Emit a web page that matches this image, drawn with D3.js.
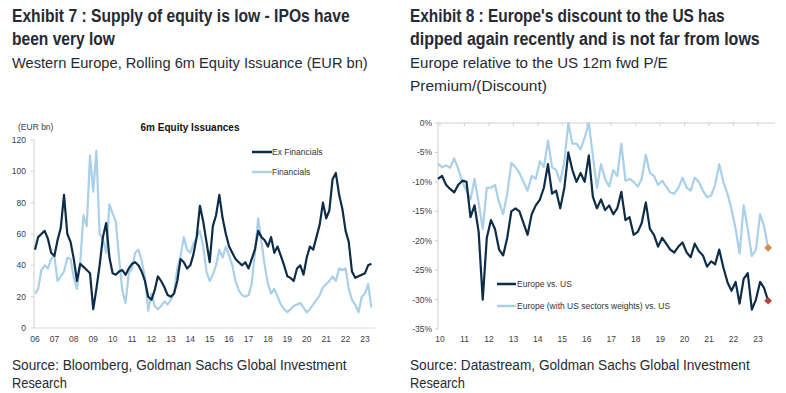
<!DOCTYPE html>
<meta charset="utf-8">
<style>
body { margin: 0; background: #fff; }
svg { display: block; }
.tick-label { font: 8.5px "Liberation Sans", Arial, sans-serif; fill: #404040; }
.legend { font: 8.5px "Liberation Sans", Arial, sans-serif; fill: #333; }
.head { font-family: "Liberation Sans", Arial, sans-serif; fill: #262a33; }
</style>
<body>
<script src="https://cdn.jsdelivr.net/npm/d3@7"></script>
<script>
// ---- data ----
// Exhibit 7: rolling 6m equity issuance, EUR bn, every 2 months from Jan 2006
var leftDates = d3.timeMonth.range(new Date(2006, 0, 1), new Date(2023, 5, 1), 2);
var exFinancials = [50,58,60,62,57,48, 46,56,64,85,60,55, 44,30,41,39,37,35,
  12,25,40,58,67,45, 35,34,36,37,34,38, 41,42,40,36,30,20, 18,24,33,30,26,21,
  20,22,30,44,42,38, 40,47,58,78,68,55, 42,65,72,85,70,60, 52,48,44,42,40,42,
  38,44,50,62,58,56, 52,58,48,52,46,40, 33,32,30,38,40,34, 45,52,50,58,66,80,
  70,75,95,99,85,76, 62,55,36,32,33,34, 35,40,41];
var financials = [22,25,37,40,38,44, 46,30,33,36,45,44, 32,25,42,72,65,110,
  87,113,60,57,48,79, 73,68,45,24,16,35, 38,48,50,43,32,11, 22,14,12,14,17,15,
  18,22,38,46,58,50, 48,54,58,62,52,36, 30,34,40,50,45,52, 46,40,30,24,21,20,
  21,28,48,70,55,40, 28,22,25,20,15,12, 10,12,14,15,16,13, 10,12,15,18,21,26,
  28,30,33,30,38,37, 38,25,18,15,10,20, 22,28,13];
var leftYTicks = [0, 20, 40, 60, 80, 100, 120];
var leftYears = d3.range(2006, 2024);

// Exhibit 8: Europe vs US 12m fwd P/E premium/(discount), %, every 2 months from Dec 2009
var rightDates = d3.timeMonth.range(new Date(2009, 11, 1), new Date(2023, 6, 1), 2);
var europeVsUs = [-9.5,-9.0,-10.5,-11.2,-11.8,-10.5,-9.8,-10.0,-16.0,-14.0,
  -18.5,-30.0,-19.5,-16.5,-18.0,-21.5,-22.5,-19.5,-15.0,-14.5,
  -15.0,-17.0,-19.0,-15.5,-14.0,-13.0,-11.0,-7.0,-12.0,-11.5,
  -14.5,-11.0,-5.0,-8.0,-10.0,-8.5,-10.0,-5.5,-12.5,-14.5,
  -13.0,-14.8,-14.0,-15.5,-14.5,-11.7,-16.5,-16.0,-19.0,-18.5,
  -17.0,-13.5,-18.0,-19.0,-21.0,-19.5,-20.5,-21.5,-22.0,-21.0,
  -20.3,-22.0,-22.8,-20.5,-21.8,-22.5,-24.4,-23.5,-24.0,-21.5,
  -24.5,-27.0,-28.5,-27.0,-30.7,-26.5,-25.5,-31.7,-30.0,-27.0,
  -28.0,-30.2];
var europeUsWeights = [-6.9,-7.5,-7.2,-7.6,-6.0,-7.8,-10.0,-11.5,-13.0,-9.5,
  -13.5,-18.0,-11.0,-11.0,-10.5,-13.5,-15.5,-12.0,-6.8,-7.5,
  -8.5,-10.0,-11.5,-9.0,-9.5,-6.5,-7.5,-3.0,-7.5,-8.0,
  -10.0,-6.5,0.0,-3.5,-3.5,-4.5,-2.5,0.0,-5.5,-11.0,
  -7.0,-9.5,-10.8,-8.0,-9.0,-3.5,-9.8,-9.5,-10.0,-10.8,
  -9.5,-5.4,-8.5,-9.0,-10.5,-9.8,-10.8,-11.8,-12.0,-11.0,
  -9.3,-11.0,-11.5,-9.3,-10.0,-11.5,-12.6,-12.3,-10.5,-7.0,
  -10.0,-12.0,-14.6,-18.0,-22.2,-14.0,-18.0,-22.6,-21.5,-15.5,
  -17.5,-21.2];
var rightYTicks = [0, -5, -10, -15, -20, -25, -30, -35];
var rightYears = d3.range(2010, 2024);

var darkBlue = "#0d2c47", lightBlue = "#a9d0e8";

var svg = d3.select("body").append("svg")
    .attr("width", 786)
    .attr("height", 393);

// headline text, squeezed sideways to the widths seen in the reference
function head(x, y, str, size, weight, len) {
  var t = svg.append("text")
    .attr("class", "head")
    .attr("x", 0).attr("y", 0)
    .attr("font-size", size)
    .attr("font-weight", weight)
    .text(str);
  var natural = t.node().getComputedTextLength();
  var sx = natural > 0 ? len / natural : 1;
  t.attr("transform", "translate(" + x + "," + y + ") scale(" + sx + ",1)");
}

head(12, 22, "Exhibit 7 : Supply of equity is low - IPOs have", 18, 700, 338);
head(12, 45, "been very low", 18, 700, 103);
head(12, 68, "Western Europe, Rolling 6m Equity Issuance (EUR bn)", 15.5, 400, 356);
head(12, 370, "Source: Bloomberg, Goldman Sachs Global Investment", 15.5, 400, 335);
head(12, 388, "Research", 15.5, 400, 55);

head(410, 22, "Exhibit 8 : Europe's discount to the US has", 18, 700, 315);
head(410, 45, "dipped again recently and is not far from lows", 18, 700, 350);
head(410, 68, "Europe relative to the US 12m fwd P/E", 15.5, 400, 258);
head(410, 91, "Premium/(Discount)", 15.5, 400, 137);
head(410, 370, "Source: Datastream, Goldman Sachs Global Investment", 15.5, 400, 340);
head(410, 388, "Research", 15.5, 400, 55);

// ---------- left chart ----------
var xL = d3.scaleTime()
    .domain([new Date(2006, 0, 1), new Date(2023, 0, 1)])
    .range([35, 365]);
var yL = d3.scaleLinear().domain([0, 120]).range([328, 140]);

var gL = svg.append("g");

// axes
gL.append("line").attr("x1", 34).attr("x2", 34).attr("y1", yL(120)).attr("y2", yL(0))
  .attr("stroke", "#d0d0d0");
gL.append("line").attr("x1", 34).attr("x2", 375).attr("y1", yL(0)).attr("y2", yL(0))
  .attr("stroke", "#d9d9d9");
gL.selectAll(".ytick").data(leftYTicks).enter().append("line")
  .attr("x1", 31).attr("x2", 34)
  .attr("y1", function(d) { return yL(d); }).attr("y2", function(d) { return yL(d); })
  .attr("stroke", "#d0d0d0");
gL.selectAll(".ylab").data(leftYTicks).enter().append("text")
  .attr("class", "tick-label")
  .attr("x", 26).attr("y", function(d) { return yL(d) + 3; })
  .attr("text-anchor", "end")
  .text(function(d) { return d; });
gL.selectAll(".xlab").data(leftYears).enter().append("text")
  .attr("class", "tick-label")
  .attr("x", function(d) { return xL(new Date(d, 0, 1)); })
  .attr("y", 342)
  .attr("text-anchor", "middle")
  .text(function(d) { return d3.timeFormat("%y")(new Date(d, 0, 1)); });

gL.append("text").attr("class", "tick-label").attr("x", 18).attr("y", 130)
  .attr("font-size", "8px").text("(EUR bn)");
gL.append("text").attr("x", 190).attr("y", 131).attr("text-anchor", "middle")
  .style("font", "bold 10px 'Liberation Sans', Arial, sans-serif").attr("fill", "#111")
  .text("6m Equity Issuances");

var lineL = function(vals) {
  return d3.line()
    .x(function(d, i) { return xL(leftDates[i]); })
    .y(function(d) { return yL(d); })(vals);
};
gL.append("path").attr("d", lineL(financials))
  .attr("fill", "none").attr("stroke", lightBlue).attr("stroke-width", 2.2)
  .attr("stroke-linejoin", "round");
gL.append("path").attr("d", lineL(exFinancials))
  .attr("fill", "none").attr("stroke", darkBlue).attr("stroke-width", 2.2)
  .attr("stroke-linejoin", "round");

var legL = [["Ex Financials", darkBlue, 152], ["Financials", lightBlue, 172]];
legL.forEach(function(l) {
  gL.append("line").attr("x1", 252).attr("x2", 272).attr("y1", l[2]).attr("y2", l[2])
    .attr("stroke", l[1]).attr("stroke-width", 2.5);
  gL.append("text").attr("class", "legend").attr("x", 272).attr("y", l[2] + 3).text(l[0]);
});

// ---------- right chart ----------
var xR = d3.scaleTime()
    .domain([new Date(2010, 0, 1), new Date(2023, 0, 1)])
    .range([440, 758]);
var yR = d3.scaleLinear().domain([-35, 0]).range([329, 123]);

var gR = svg.append("g");

gR.append("line").attr("x1", 438).attr("x2", 438).attr("y1", yR(0)).attr("y2", yR(-35))
  .attr("stroke", "#d0d0d0");
gR.append("line").attr("x1", 438).attr("x2", 775).attr("y1", yR(0)).attr("y2", yR(0))
  .attr("stroke", "#d0d0d0");
gR.selectAll(".xtick").data(rightYears).enter().append("line")
  .attr("x1", function(d) { return xR(new Date(d, 0, 1)); })
  .attr("x2", function(d) { return xR(new Date(d, 0, 1)); })
  .attr("y1", yR(0)).attr("y2", yR(0) + 3)
  .attr("stroke", "#d0d0d0");
gR.selectAll(".ytick").data(rightYTicks).enter().append("line")
  .attr("x1", 435).attr("x2", 438)
  .attr("y1", function(d) { return yR(d); }).attr("y2", function(d) { return yR(d); })
  .attr("stroke", "#d0d0d0");
gR.selectAll(".ylab").data(rightYTicks).enter().append("text")
  .attr("class", "tick-label")
  .attr("x", 432).attr("y", function(d) { return yR(d) + 3; })
  .attr("text-anchor", "end")
  .text(function(d) { return d + "%"; });
gR.selectAll(".xlab").data(rightYears).enter().append("text")
  .attr("class", "tick-label")
  .attr("x", function(d) { return xR(new Date(d, 0, 1)); })
  .attr("y", 342)
  .attr("text-anchor", "middle")
  .text(function(d) { return d3.timeFormat("%y")(new Date(d, 0, 1)); });

var lineR = function(vals) {
  return d3.line()
    .x(function(d, i) { return xR(rightDates[i]); })
    .y(function(d) { return yR(d); })(vals);
};
gR.append("path").attr("d", lineR(europeUsWeights))
  .attr("fill", "none").attr("stroke", lightBlue).attr("stroke-width", 2.2)
  .attr("stroke-linejoin", "round");
gR.append("path").attr("d", lineR(europeVsUs))
  .attr("fill", "none").attr("stroke", darkBlue).attr("stroke-width", 2.2)
  .attr("stroke-linejoin", "round");

// end-point diamonds
var last = rightDates.length - 1;
var ends = [[europeUsWeights[last], "#d98a45"], [europeVsUs[last], "#b3413d"]];
ends.forEach(function(e) {
  gR.append("path")
    .attr("d", d3.symbol().type(d3.symbolDiamond2).size(38)())
    .attr("transform", "translate(" + xR(rightDates[last]) + "," + yR(e[0]) + ")")
    .attr("fill", e[1]);
});

var legR = [["Europe vs. US", darkBlue, 284], ["Europe (with US sectors weights) vs. US", lightBlue, 306]];
legR.forEach(function(l) {
  gR.append("line").attr("x1", 497).attr("x2", 516).attr("y1", l[2]).attr("y2", l[2])
    .attr("stroke", l[1]).attr("stroke-width", 2.5);
  gR.append("text").attr("class", "legend").attr("x", 517).attr("y", l[2] + 3).text(l[0]);
});
</script>
</body>
